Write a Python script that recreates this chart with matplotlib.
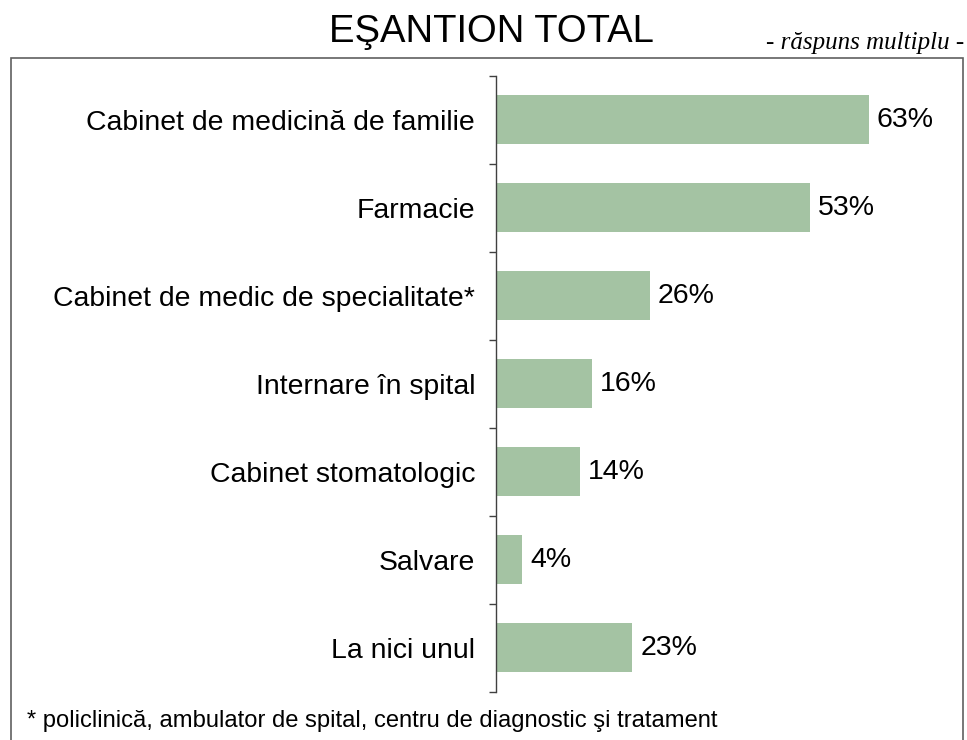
import matplotlib
matplotlib.use("Agg")
import matplotlib.pyplot as plt
from matplotlib.patches import Rectangle
import numpy as np

categories = ["Cabinet de medicină de familie", "Farmacie", "Cabinet de medic de specialitate*",
              "Internare în spital", "Cabinet stomatologic", "Salvare", "La nici unul"]
values = [63, 53, 26, 16.2, 14.2, 4.4, 23]
value_labels = ["63%", "53%", "26%", "16%", "14%", "4%", "23%"]

plt.rcParams['font.family'] = ['Liberation Sans', 'DejaVu Sans']

W, H = 967, 740
fig = plt.figure(figsize=(W/100, H/100), dpi=100)
ax_left, ax_right, ax_top, ax_bot = 496, 950, 75.7, 691.7
ax = fig.add_axes([ax_left/W, 1-ax_bot/H, (ax_right-ax_left)/W, (ax_bot-ax_top)/H])
px_per_unit = 5.92

y = np.arange(len(categories))
ax.barh(y, values, height=0.553, color='#A4C3A3', edgecolor='none')
ax.set_ylim(len(categories)-0.5, -0.5)
ax.set_xlim(0, (ax_right-ax_left)/px_per_unit)
ax.set_yticks(np.arange(-0.5, len(categories)), minor=False)
ax.set_yticklabels([])
ax.set_yticks(y, minor=True)
ax.set_yticklabels(categories, minor=True, fontsize=20.4)
ax.tick_params(axis='y', which='major', length=5, width=1, color='#404040', direction='out')
ax.tick_params(axis='y', which='minor', length=0, pad=15)
ax.set_xticks([])
for s in ['top', 'right', 'bottom']:
    ax.spines[s].set_visible(False)
ax.spines['left'].set_color('#404040')
ax.spines['left'].set_linewidth(1)

for yi, v, lab in zip(y, values, value_labels):
    ax.text(v + 8/px_per_unit, yi, lab, va='center', ha='left', fontsize=20.5)

fig.text(491/W, 1-42/H, "EŞANTION TOTAL", ha='center', va='baseline', fontsize=27.5)
fig.text(964/W, 1-49/H, "- răspuns multiplu -", ha='right', va='baseline', fontsize=18,
         family=['Liberation Serif', 'DejaVu Serif'], style='italic')
fig.text(27/W, 1-727/H, "* policlinică, ambulator de spital, centru de diagnostic şi tratament",
         ha='left', va='baseline', fontsize=17.1)

fig.patches.append(Rectangle((11/W, -0.05), (963-11)/W, (1-58/H)+0.05, transform=fig.transFigure,
                             fill=False, edgecolor='#606060', linewidth=1.2))

fig.savefig("out.png", dpi=100)
